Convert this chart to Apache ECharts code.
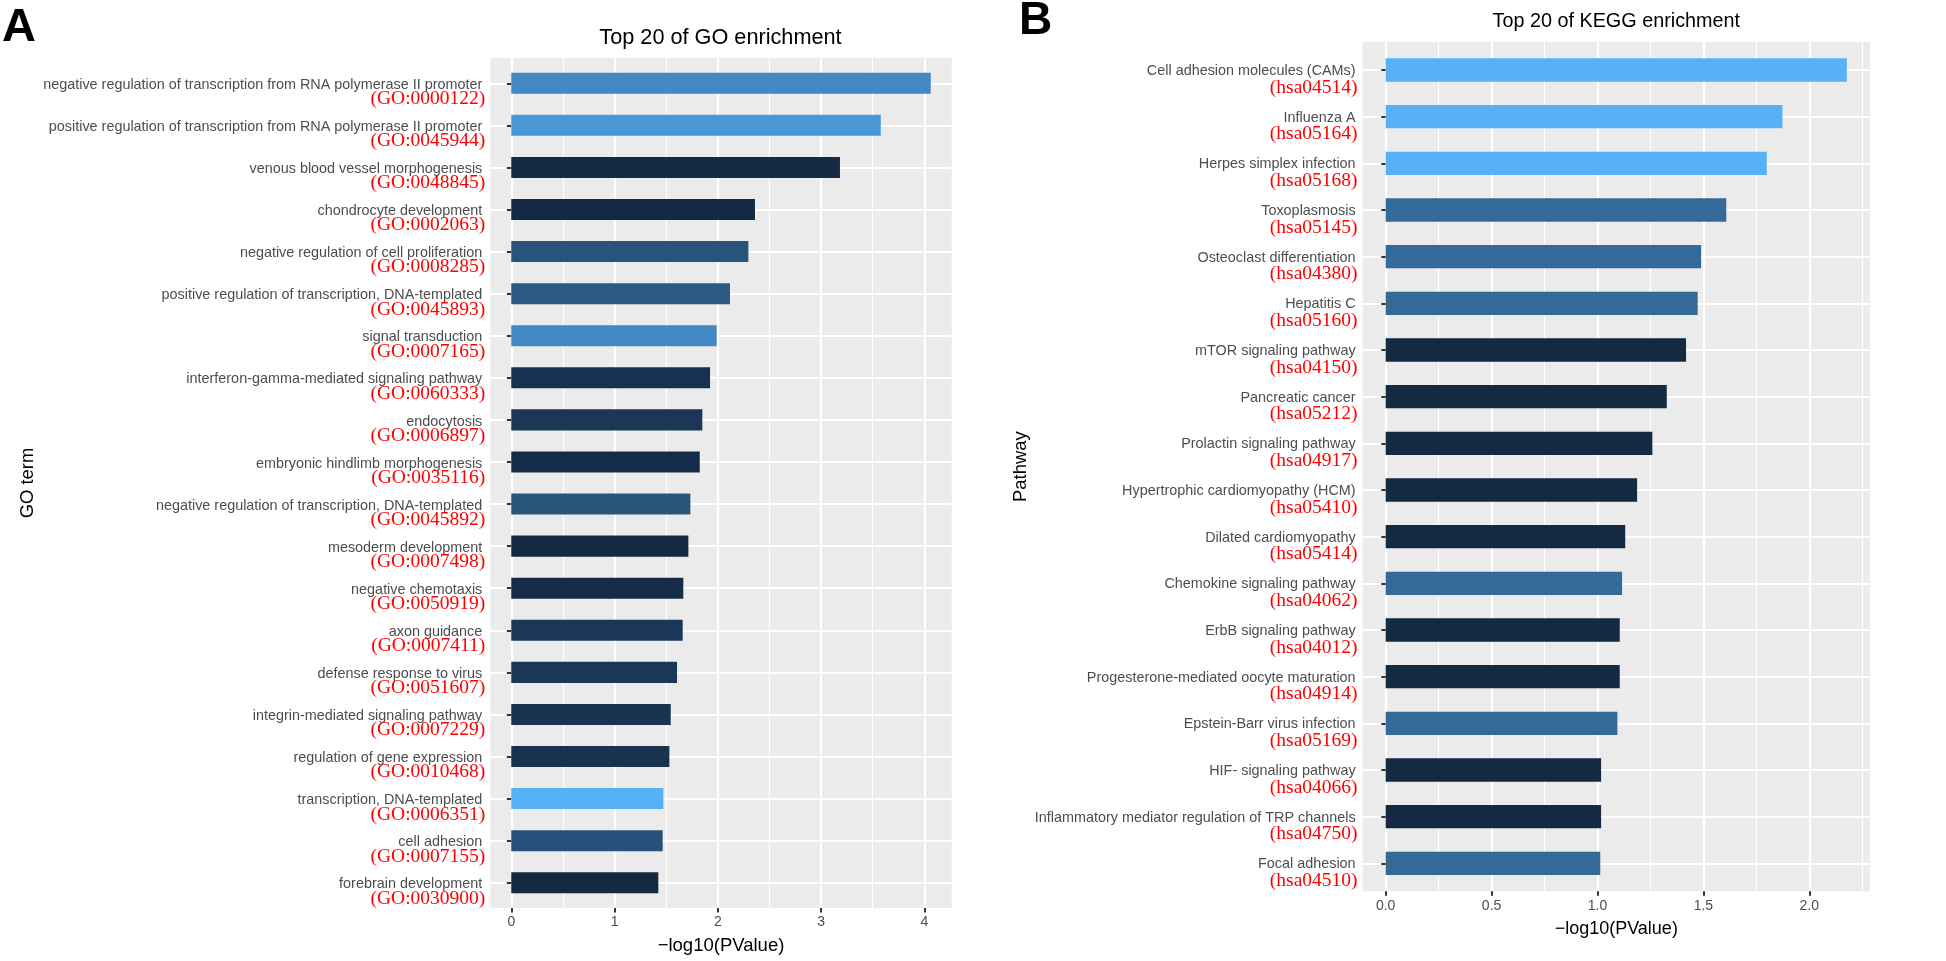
<!DOCTYPE html>
<html>
<head>
<meta charset="utf-8">
<script src="https://cdn.jsdelivr.net/npm/echarts@6/dist/echarts.min.js"></script>
<style>
html,body{margin:0;padding:0;background:#fff;}
#chart{width:1946px;height:961px;}
</style>
</head>
<body>
<div id="chart"></div>
<script>
// ---------- Data: panel A (GO) ----------
var goTerms = [
  'negative regulation of transcription from RNA polymerase II promoter',
  'positive regulation of transcription from RNA polymerase II promoter',
  'venous blood vessel morphogenesis',
  'chondrocyte development',
  'negative regulation of cell proliferation',
  'positive regulation of transcription, DNA-templated',
  'signal transduction',
  'interferon-gamma-mediated signaling pathway',
  'endocytosis',
  'embryonic hindlimb morphogenesis',
  'negative regulation of transcription, DNA-templated',
  'mesoderm development',
  'negative chemotaxis',
  'axon guidance',
  'defense response to virus',
  'integrin-mediated signaling pathway',
  'regulation of gene expression',
  'transcription, DNA-templated',
  'cell adhesion',
  'forebrain development'
];
var goIds = [
  '(GO:0000122)','(GO:0045944)','(GO:0048845)','(GO:0002063)','(GO:0008285)',
  '(GO:0045893)','(GO:0007165)','(GO:0060333)','(GO:0006897)','(GO:0035116)',
  '(GO:0045892)','(GO:0007498)','(GO:0050919)','(GO:0007411)','(GO:0051607)',
  '(GO:0007229)','(GO:0010468)','(GO:0006351)','(GO:0007155)','(GO:0030900)'
];
var goValues = [4.062, 3.578, 3.183, 2.360, 2.296, 2.118, 1.989, 1.925, 1.850, 1.825,
                1.734, 1.715, 1.666, 1.660, 1.605, 1.544, 1.531, 1.473, 1.466, 1.424];
var goTicks = [0, 1, 2, 3, 4];
var goMinorTicks = [0.5, 1.5, 2.5, 3.5];

// ---------- Data: panel B (KEGG) ----------
var keggTerms = [
  'Cell adhesion molecules (CAMs)',
  'Influenza A',
  'Herpes simplex infection',
  'Toxoplasmosis',
  'Osteoclast differentiation',
  'Hepatitis C',
  'mTOR signaling pathway',
  'Pancreatic cancer',
  'Prolactin signaling pathway',
  'Hypertrophic cardiomyopathy (HCM)',
  'Dilated cardiomyopathy',
  'Chemokine signaling pathway',
  'ErbB signaling pathway',
  'Progesterone-mediated oocyte maturation',
  'Epstein-Barr virus infection',
  'HIF- signaling pathway',
  'Inflammatory mediator regulation of TRP channels',
  'Focal adhesion'
];
var keggIds = [
  '(hsa04514)','(hsa05164)','(hsa05168)','(hsa05145)','(hsa04380)','(hsa05160)',
  '(hsa04150)','(hsa05212)','(hsa04917)','(hsa05410)','(hsa05414)','(hsa04062)',
  '(hsa04012)','(hsa04914)','(hsa05169)','(hsa04066)','(hsa04750)','(hsa04510)'
];
var keggValues = [2.177, 1.873, 1.799, 1.608, 1.489, 1.473, 1.418, 1.327, 1.259,
                  1.187, 1.131, 1.116, 1.105, 1.105, 1.094, 1.017, 1.017, 1.013];
var keggTicks = [0, 0.5, 1, 1.5, 2];
var keggMinorTicks = [0.25, 0.75, 1.25, 1.75, 2.25];

// ---------- Styles (fill colours of the bars) ----------
var goColors = ['#4289C4','#4897D6','#152A45','#142A43','#28547A','#2B5B85','#4289C4',
                '#173150','#1B3656','#152C48','#28557C','#142A43','#152B46','#1A3658',
                '#1A3658','#18324F','#18324F','#56B1F7','#27517A','#142A43'];
var keggColors = ['#56B1F7','#56B1F7','#56B1F7','#336A98','#336A98','#336A98','#142A43',
                  '#142A43','#142A43','#142A43','#142A43','#336A98','#142A43','#142A43',
                  '#336A98','#142A43','#142A43','#336A98'];

var SANS = "'Liberation Sans', Arial, sans-serif";
var SERIF = "'Liberation Serif', 'Times New Roman', serif";

function panelSpec(cfg) {
  var gi = cfg.idx * 2;
  var grids = [
    { left: cfg.left, top: cfg.top, width: cfg.width, height: cfg.height,
      show: true, backgroundColor: '#EBEBEB', borderWidth: 0 },
    { left: cfg.left, top: cfg.rowTop, width: cfg.width, height: cfg.rowHeight,
      show: false }
  ];
  var xAxes = [
    { gridIndex: gi, type: 'value', min: cfg.min, max: cfg.max, position: 'bottom',
      name: '\u2212log10(PValue)', nameLocation: 'middle', nameGap: cfg.xNameGap,
      nameTextStyle: { fontFamily: SANS, fontSize: cfg.xNameSize, color: '#000' },
      axisLine: { show: false },
      axisTick: { show: true, length: 4.4, customValues: cfg.ticks,
                  lineStyle: { color: '#333333', width: 2 } },
      axisLabel: { show: true, customValues: cfg.ticks, margin: cfg.xLabelMargin,
                   fontFamily: SANS, fontSize: 14, color: '#4D4D4D',
                   formatter: function (v) { return cfg.decimals ? v.toFixed(cfg.decimals) : String(v); } },
      splitLine: { show: true, lineStyle: { color: '#FFFFFF', width: 2.2 } },
      minorSplitLine: { show: false }
    },
    { gridIndex: gi, type: 'value', min: cfg.min, max: cfg.max, position: 'top',
      axisLine: { show: false },
      axisTick: { show: false, customValues: cfg.minor },
      axisLabel: { show: false, customValues: cfg.minor },
      splitLine: { show: true, lineStyle: { color: '#FFFFFF', width: 1.1 } }
    },
    { gridIndex: gi + 1, type: 'value', min: cfg.min, max: cfg.max, show: false }
  ];
  var yAxes = [
    { gridIndex: gi, type: 'value', show: false },
    { gridIndex: gi + 1, type: 'category', data: cfg.terms, inverse: true, boundaryGap: false,
      name: cfg.yName, nameLocation: 'middle', nameGap: cfg.yNameGap, nameRotate: 90,
      nameTextStyle: { fontFamily: SANS, fontSize: 18.4, color: '#000' },
      axisLine: { show: false },
      axisTick: { show: true, length: 4.4, lineStyle: { color: '#333333', width: 2 } },
      splitLine: { show: true, lineStyle: { color: '#FFFFFF', width: 2.2 } },
      axisLabel: {
        show: true, interval: 0, margin: cfg.yLabelMargin, align: 'right',
        padding: [cfg.padTop, 0, 0, 0],
        formatter: function (v, i) { return '{n|' + v + '}\n{id|' + cfg.ids[i] + '}'; },
        rich: {
          n: { fontFamily: SANS, fontSize: 14.4, color: '#4D4D4D', lineHeight: cfg.lh1,
               align: 'right', padding: [0, cfg.namePadRight, 0, 0] },
          id: { fontFamily: SERIF, fontSize: 19.5, color: '#FF0000', lineHeight: cfg.lh2,
                align: 'right' }
        }
      }
    }
  ];
  var series = {
    type: 'bar', xAxisIndex: cfg.idx * 3 + 2, yAxisIndex: cfg.idx * 2 + 1,
    barWidth: '50%', clip: false, silent: true,
    data: cfg.values.map(function (v, i) {
      return { value: v, itemStyle: { color: cfg.colors[i] } };
    }),
    z: 3
  };
  return { grids: grids, xAxes: xAxes, yAxes: yAxes, series: series };
}

var A = panelSpec({
  idx: 0, values: goValues, terms: goTerms, ids: goIds, colors: goColors,
  ticks: goTicks, minor: goMinorTicks, min: -0.2031, max: 4.265, decimals: 0,
  left: 490.3, top: 58, width: 461.4, height: 850,
  rowTop: 83.25, rowHeight: 799.5,
  xNameGap: 28, xNameSize: 18.5, xLabelMargin: 7,
  yName: 'GO term', yNameGap: 453, yLabelMargin: 5,
  padTop: 19.6, lh1: 12, lh2: 16.2, namePadRight: 3
});
var B = panelSpec({
  idx: 1, values: keggValues, terms: keggTerms, ids: keggIds, colors: keggColors,
  ticks: keggTicks, minor: keggMinorTicks, min: -0.1089, max: 2.286, decimals: 1,
  left: 1362.6, top: 42, width: 507.3, height: 849.3,
  rowTop: 70, rowHeight: 793.3,
  xNameGap: 28.5, xNameSize: 18, xLabelMargin: 8,
  yName: 'Pathway', yNameGap: 333, yLabelMargin: 5,
  padTop: 21.4, lh1: 14, lh2: 19.4, namePadRight: 2
});

var option = {
  animation: false,
  backgroundColor: '#FFFFFF',
  grid: A.grids.concat(B.grids),
  xAxis: A.xAxes.concat(B.xAxes),
  yAxis: A.yAxes.concat(B.yAxes),
  series: [A.series, B.series],
  graphic: [
    { type: 'text', x: 720.5, y: 38, style: { text: 'Top 20 of GO enrichment', fontFamily: SANS,
      fontSize: 21.7, fill: '#000', align: 'center', verticalAlign: 'middle' } },
    { type: 'text', x: 1616.3, y: 21.7, style: { text: 'Top 20 of KEGG enrichment', fontFamily: SANS,
      fontSize: 19.8, fill: '#000', align: 'center', verticalAlign: 'middle' } },
    { type: 'text', x: 19, y: 28, style: { text: 'A', fontFamily: SANS, fontWeight: 'bold',
      fontSize: 47, fill: '#000', align: 'center', verticalAlign: 'middle' } },
    { type: 'text', x: 1035.5, y: 21, style: { text: 'B', fontFamily: SANS, fontWeight: 'bold',
      fontSize: 46, fill: '#000', align: 'center', verticalAlign: 'middle' } }
  ]
};

var chart = echarts.init(document.getElementById('chart'), null, { renderer: 'canvas' });
chart.setOption(option);
</script>
</body>
</html>
